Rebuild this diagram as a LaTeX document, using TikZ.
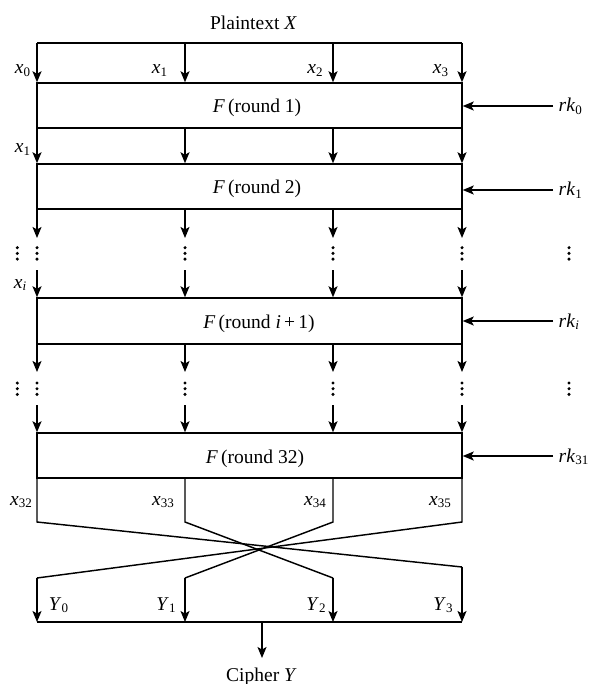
\documentclass[tikz,border=0pt]{standalone}
\usepackage{fontspec}
\setmainfont{Liberation Serif}
\usetikzlibrary{arrows.meta}
\newcommand\lbl[2]{\textit{#1}\raisebox{-0.28ex}{\fontsize{13}{13}\selectfont #2}}
\tikzset{
  arr/.style={-{Stealth[length=11pt,width=9pt,inset=2.5pt]}},
  rbox/.style={draw, minimum width=425pt, minimum height=45pt, inner sep=0pt},
  lab/.style={inner sep=0pt, anchor=base, font=\fontsize{19.5}{23}\selectfont},
  rklab/.style={inner sep=0pt, anchor=base west, font=\fontsize{19.5}{23}\selectfont},
  dotc/.style={circle, fill, inner sep=0pt, minimum size=3.4pt},
}
\begin{document}
\begin{tikzpicture}[x=1pt,y=-1pt,line width=1.45pt]
\useasboundingbox (0,0) rectangle (588,684);
% title
\node[lab] (pt) at (253.5,30) {Plaintext \textit{X}};
% top line
\coordinate (t0) at (37,43);
\coordinate (t1) at (185,43);
\coordinate (t2) at (333,43);
\coordinate (t3) at (462,43);
\draw (t0) -- (t3);
% boxes
\node[rbox] (r1) at (249.5,105.5) {};
\node[rbox] (r2) at (249.5,186.5) {};
\node[rbox, minimum height=46pt] (ri) at (249.5,321) {};
\node[rbox] (r32) at (249.5,455.5) {};
\node[lab] (f1) at (257,113) {\textit{F}\,(round 1)};
\node[lab] (f2) at (257,194) {\textit{F}\,(round 2)};
\node[lab] (fi) at (259,328.5) {\textit{F}\,(round \textit{i}\,+\,1)};
\node[lab] (f32) at (255,463) {\textit{F}\,(round 32)};
% top arrows
\foreach \c in {0,1,2,3} {
  \draw[arr] (t\c) -- (t\c |- r1.north);
}
\draw[arr] (r1.south -| t0) -- (r2.north -| t0);
\draw[arr] (r1.south -| t1) -- (r2.north -| t1);
\draw[arr] (r1.south -| t2) -- (r2.north -| t2);
\draw[arr] (r1.south -| t3) -- (r2.north -| t3);
% dotted sections
\coordinate (d1a) at (0,238);
\coordinate (d1b) at (0,270);
\coordinate (d2a) at (0,372);
\coordinate (d2b) at (0,405);
\foreach \c in {0,1,2,3} {
  \draw[arr] (r2.south -| t\c) -- (d1a -| t\c);
  \draw[arr] (d1b -| t\c) -- (ri.north -| t\c);
  \draw[arr] (ri.south -| t\c) -- (d2a -| t\c);
  \draw[arr] (d2b -| t\c) -- (r32.north -| t\c);
}
\foreach \x in {17.3,37,185,333,462,569} {
  \foreach \y in {247.7,253.4,259.1,383,388.7,394.4} {
    \node[dotc] at (\x,\y) {};
  }
}
% labels x
\node[lab] (lx0) at (22.5,74) {\lbl{x}{0}};
\node[lab] (lx1) at (159.5,74) {\lbl{x}{1}};
\node[lab] (lx2) at (315,74) {\lbl{x}{2}};
\node[lab] (lx3) at (440.5,74) {\lbl{x}{3}};
\node[lab] (lx1b) at (22.5,153) {\lbl{x}{1}};
\node[lab] (lxi) at (20,288) {\lbl{x}{\textit{i}}};
% round keys
\coordinate (k0) at (553,106);
\coordinate (k1) at (553,190);
\coordinate (ki) at (553,321);
\coordinate (k31) at (553,456);
\draw[arr] (k0) -- (k0 -| r1.east);
\draw[arr] (k1) -- (k1 -| r2.east);
\draw[arr] (ki) -- (ki -| ri.east);
\draw[arr] (k31) -- (k31 -| r32.east);
\node[rklab] (lk0) at (558,112) {\lbl{rk}{0}};
\node[rklab] (lk1) at (558,196) {\lbl{rk}{1}};
\node[rklab] (lki) at (558,327) {\lbl{rk}{\textit{i}}};
\node[rklab] (lk31) at (558,462) {\lbl{rk}{31}};
% output swap
\coordinate (b0) at (37,522);
\coordinate (b1) at (185,522);
\coordinate (b2) at (333,522);
\coordinate (b3) at (462,522);
\coordinate (e0) at (37,578);
\coordinate (e1) at (185,578);
\coordinate (e2) at (333,578);
\coordinate (e3) at (462,567);
\coordinate (g0) at (37,622);
\coordinate (g1) at (185,622);
\coordinate (g2) at (333,622);
\coordinate (g3) at (462,622);
\draw (r32.south -| b0) -- (b0) -- (e3);
\draw (r32.south -| b1) -- (b1) -- (e2);
\draw (r32.south -| b2) -- (b2) -- (e1);
\draw (r32.south -| b3) -- (b3) -- (e0);
\foreach \c in {0,1,2,3} {
  \draw[arr] (e\c) -- (g\c);
}
\draw (g0) -- (g3);
\coordinate (cy) at (262,622);
\coordinate (cyb) at (262,658);
\draw[arr] (cy) -- (cyb);
\node[lab] (cipher) at (261.5,681) {Cipher \textit{Y}};
\node[lab] (lx32) at (21,505) {\lbl{x}{32}};
\node[lab] (lx33) at (163,505) {\lbl{x}{33}};
\node[lab] (lx34) at (315,505) {\lbl{x}{34}};
\node[lab] (lx35) at (440,505) {\lbl{x}{35}};
\node[lab] (ly0) at (58.5,610) {\lbl{Y}{0}};
\node[lab] (ly1) at (166,610) {\lbl{Y}{1}};
\node[lab] (ly2) at (316,610) {\lbl{Y}{2}};
\node[lab] (ly3) at (443,610) {\lbl{Y}{3}};
\end{tikzpicture}
\end{document}
